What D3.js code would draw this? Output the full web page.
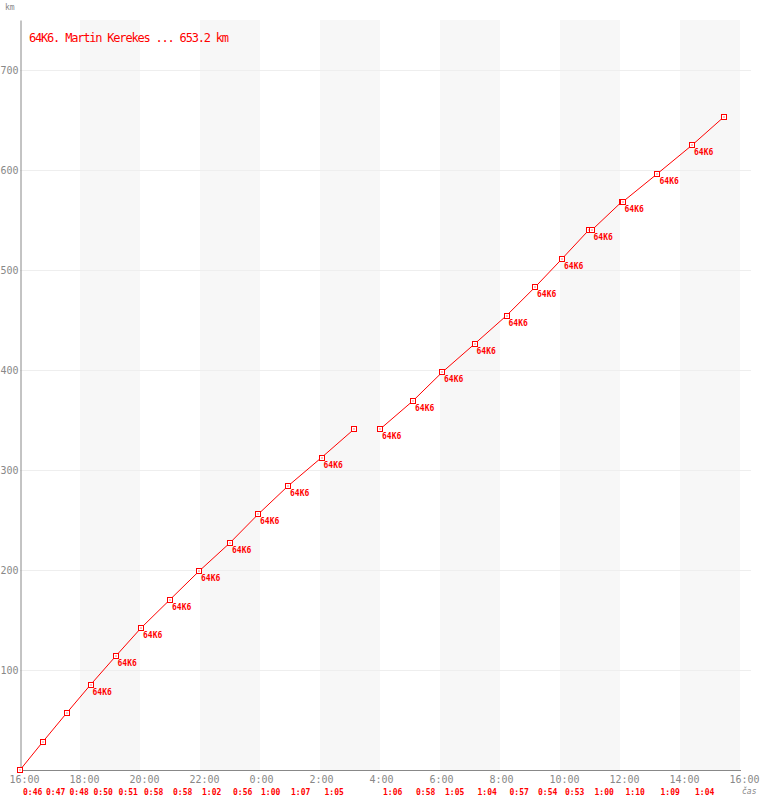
<!DOCTYPE html>
<html><head><meta charset="utf-8">
<script src="https://cdn.jsdelivr.net/npm/d3@7"></script>
<style>html,body{margin:0;padding:0;background:#fff}svg{display:block}</style>
</head><body><div id="chart"></div>
<script>
const title = "64K6. Martin Kerekes ... 653.2 km";
const runner = "64K6";
const kmTicks = [100, 200, 300, 400, 500, 600, 700];
const hourTicks = [0, 2, 4, 6, 8, 10, 12, 14, 16, 18, 20, 22, 24]; // hours after 16:00
const hourLabels = ["16:00","18:00","20:00","22:00","0:00","2:00","4:00","6:00","8:00","10:00","12:00","14:00","16:00"];
const bandStarts = [2, 6, 10, 14, 18, 22]; // shaded 2-hour bands (hours after 16:00)

// segment 1 (before the break)
const seg1Times = ["16:00","16:46","17:33","18:21","19:11","20:02","21:00","21:58","23:00","23:56","00:56","02:03","03:08"];
const seg1Km    = [0, 28.4, 56.8, 85.2, 113.6, 142.0, 170.4, 198.8, 227.2, 255.6, 284.0, 312.4, 340.8];
const seg1Tag   = [0, 0, 0, 1, 1, 1, 1, 1, 1, 1, 1, 1, 0];
const seg1Laps  = ["0:46","0:47","0:48","0:50","0:51","0:58","0:58","1:02","0:56","1:00","1:07","1:05"];
// segment 2 (after the break)
const seg2Times = ["04:00","05:06","06:04","07:09","08:13","09:10","10:04","10:57","11:03","12:03","12:05","13:15","14:24","15:28"];
const seg2Km    = [340.8, 369.2, 397.6, 426.0, 454.4, 482.8, 511.2, 539.6, 539.6, 568.0, 568.0, 596.4, 624.8, 653.2];
const seg2Tag   = [1, 1, 1, 1, 1, 1, 1, 0, 1, 0, 1, 1, 1, 0];
const seg2Laps  = ["1:06","0:58","1:05","1:04","0:57","0:54","0:53","1:00","1:10","1:09","1:04"];

const W = 760, H = 800;
const RED = "#ff0000", GRAY = "#888888";
const MONO = "'DejaVu Sans Mono', 'Liberation Mono', monospace";

function toMin(t) {
  const [h, m] = t.split(":").map(Number);
  let v = h * 60 + m - 16 * 60;
  if (v < 0) v += 1440;
  return v;
}

const x = d3.scaleLinear().domain([0, 1440]).range([20, 740]);
const y = d3.scaleLinear().domain([0, 750]).range([770, 20]);

const svg = d3.select("#chart").append("svg").attr("width", W).attr("height", H);

// bands
svg.append("g").selectAll("rect").data(bandStarts).join("rect")
  .attr("x", d => x(d * 60)).attr("y", y(750))
  .attr("width", d => x((d + 2) * 60) - x(d * 60)).attr("height", y(0) - y(750))
  .attr("fill", "#f7f7f7");

// grid
svg.append("g").selectAll("line").data(kmTicks).join("line")
  .attr("x1", x(0)).attr("x2", x(1440) + 11)
  .attr("y1", d => Math.round(y(d)) + 0.5).attr("y2", d => Math.round(y(d)) + 0.5)
  .attr("stroke", "#eeeeee").attr("stroke-width", 1);

// axes
const yAxis = d3.axisLeft(y).tickValues(kmTicks).tickSize(0).tickPadding(2).tickFormat(d3.format("d"));
const yg = svg.append("g").attr("transform", "translate(20.5,0)").call(yAxis);
yg.select(".domain").attr("stroke", GRAY);
yg.selectAll("text").attr("font-family", MONO).attr("font-size", 10).attr("fill", GRAY);

const xAxis = d3.axisBottom(x).tickValues(hourTicks.map(h => h * 60)).tickSize(0)
  .tickFormat((d, i) => hourLabels[i]);
const xg = svg.append("g").attr("transform", "translate(0,770.5)").call(xAxis);
xg.select(".domain").attr("stroke", GRAY).attr("d", `M${x(0)},0H${x(1440) + 1}`);
xg.selectAll("text").attr("font-family", MONO).attr("font-size", 10).attr("fill", GRAY)
  .attr("text-anchor", "start").attr("dx", -11).attr("y", 12.5).attr("dy", 0);

// axis titles
svg.append("text").attr("x", 5).attr("y", 10).text("km")
  .attr("font-family", MONO).attr("font-size", 8).attr("fill", GRAY);
svg.append("text").attr("x", 742).attr("y", 794).text("čas")
  .attr("font-family", MONO).attr("font-size", 8).attr("font-style", "italic").attr("fill", GRAY);

// title
svg.append("text").attr("x", 29).attr("y", 42).text(title)
  .attr("font-family", MONO).attr("font-size", 12).attr("letter-spacing", -1.2).attr("fill", RED);

// series
const segs = [
  { times: seg1Times, km: seg1Km, tag: seg1Tag, laps: seg1Laps },
  { times: seg2Times, km: seg2Km, tag: seg2Tag, laps: seg2Laps }
];
const line = d3.line().x(d => x(d.t)).y(d => y(d.km));

segs.forEach(s => {
  const pts = s.times.map((t, i) => ({ t: toMin(t), km: s.km[i], tag: s.tag[i] }));
  svg.append("path").datum(pts).attr("d", line)
    .attr("fill", "none").attr("stroke", RED).attr("stroke-width", 1);

  const g = svg.append("g");
  pts.forEach(p => {
    const cx = Math.round(x(p.t)), cy = Math.round(y(p.km));
    g.append("rect").attr("x", cx - 2.5).attr("y", cy - 2.5).attr("width", 5).attr("height", 5)
      .attr("fill", "#fff").attr("stroke", RED).attr("stroke-width", 1);
    g.append("rect").attr("x", cx - 0.5).attr("y", cy - 0.5).attr("width", 1).attr("height", 1).attr("fill", RED);
  });
  svg.append("g").selectAll("text").data(pts.filter(p => p.tag)).join("text")
    .attr("x", p => x(p.t) + 2).attr("y", p => y(p.km) + 10).text(runner)
    .attr("font-family", MONO).attr("font-size", 8).attr("font-weight", "bold").attr("fill", RED);

  // lap durations at lap start
  const starts = [];
  for (let i = 0; i < pts.length - 1; i++) if (pts[i + 1].km > pts[i].km) starts.push(pts[i]);
  svg.append("g").selectAll("text").data(starts).join("text")
    .attr("x", p => x(p.t) + 3).attr("y", 795).text((p, i) => s.laps[i])
    .attr("font-family", MONO).attr("font-size", 8).attr("font-weight", "bold").attr("fill", RED);
});
</script></body></html>
